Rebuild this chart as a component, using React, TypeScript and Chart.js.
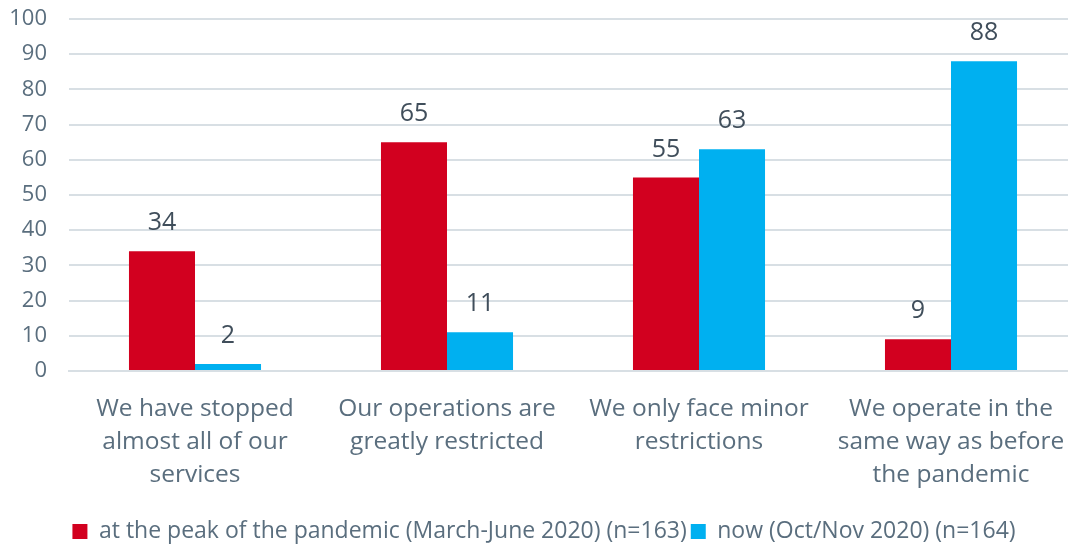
import React, { useEffect, useRef } from "react";
import { Chart, registerables } from "chart.js";

Chart.register(...registerables);

const categories: string[][] = [
  ["We have stopped", "almost all of our", "services"],
  ["Our operations are", "greatly restricted"],
  ["We only face minor", "restrictions"],
  ["We operate in the", "same way as before", "the pandemic"],
];
const peakValues = [34, 65, 55, 9];
const nowValues = [2, 11, 63, 88];
const seriesLabels = [
  "at the peak of the pandemic (March-June 2020) (n=163)",
  "now (Oct/Nov 2020) (n=164)",
];

const FONT = "'Open Sans', sans-serif";
const TEXT = "#5A6E7E";
const LABEL = "#404E5B";
const GRID = "#D8DFE4";

const valueLabels = {
  id: "valueLabels",
  afterDatasetsDraw(chart: any) {
    const ctx = chart.ctx;
    ctx.save();
    ctx.font = `25px ${FONT}`;
    ctx.fillStyle = LABEL;
    ctx.textAlign = "center";
    ctx.textBaseline = "middle";
    chart.data.datasets.forEach((ds: any, i: number) => {
      const meta = chart.getDatasetMeta(i);
      meta.data.forEach((bar: any, j: number) => {
        ctx.fillText(String(ds.data[j]), bar.x, bar.y - 28);
      });
    });
    ctx.restore();
  },
};

export default function App() {
  const ref = useRef<HTMLCanvasElement>(null);
  useEffect(() => {
    if (!ref.current) return;
    const chart = new Chart(ref.current, {
      type: "bar",
      data: {
        labels: categories,
        datasets: [
          { label: seriesLabels[0], data: peakValues, backgroundColor: "#D2001F" },
          { label: seriesLabels[1], data: nowValues, backgroundColor: "#00B0F0" },
        ],
      },
      options: {
        animation: false,
        responsive: true,
        maintainAspectRatio: false,
        layout: { padding: { top: 19, left: 11, right: 0, bottom: -8 } },
        datasets: { bar: { categoryPercentage: 0.524, barPercentage: 1 } } as any,
        scales: {
          x: {
            grid: { display: false, drawTicks: false },
            border: { color: GRID, width: 2 },
            ticks: {
              color: TEXT,
              font: { family: FONT, size: 24.5, lineHeight: 1.35 },
              padding: 21,
              maxRotation: 0,
              autoSkip: false,
            },
            afterFit: (s: any) => {
              s.paddingLeft = 0;
              s.paddingRight = 0;
              s.height = 145;
            },
          },
          y: {
            min: 0,
            max: 100,
            grid: { color: GRID, lineWidth: 2, drawTicks: false },
            border: { display: false },
            ticks: { stepSize: 10, color: TEXT, font: { family: FONT, size: 22 }, padding: 22 },
            afterFit: (s: any) => {
              s.width = 58;
              s.paddingTop = 0;
              s.paddingBottom = 0;
            },
          },
        },
        plugins: {
          legend: {
            position: "bottom",
            labels: {
              color: TEXT,
              font: { family: FONT, size: 23 },
              boxWidth: 15,
              boxHeight: 15,
              padding: 4,
            },
          },
          tooltip: { enabled: false },
        },
      },
      plugins: [valueLabels],
    });
    return () => chart.destroy();
  }, []);
  return (
    <div style={{ position: "fixed", left: 0, top: 0, width: 1077, height: 545, background: "#fff" }}>
      <canvas ref={ref} />
    </div>
  );
}
